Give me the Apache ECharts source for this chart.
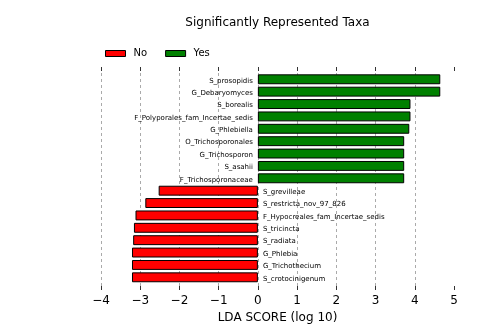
<!DOCTYPE html>
<html>
<head>
<meta charset="utf-8">
<script src="https://cdn.jsdelivr.net/npm/echarts@6/dist/echarts.min.js"></script>
<style>
  html, body { margin: 0; padding: 0; background: #fff; }
  #chart { width: 504px; height: 334px; }
</style>
</head>
<body>
<div id="chart"></div>
<script>
// Taxa in display order (top to bottom)
const taxa = [
  'S_prosopidis', 'G_Debaryomyces', 'S_borealis', 'F_Polyporales_fam_Incertae_sedis',
  'G_Phlebiella', 'O_Trichosporonales', 'G_Trichosporon', 'S_asahii',
  'F_Trichosporonaceae', 'S_grevilleae', 'S_restricta_nov_97_826',
  'F_Hypocreales_fam_Incertae_sedis', 'S_tricincta', 'S_radiata', 'G_Phlebia',
  'G_Trichothecium', 'S_crotocinigenum'
];
// LDA scores, enriched ("Yes") group
const yesScores = [4.65, 4.65, 3.89, 3.89, 3.86, 3.73, 3.73, 3.73, 3.73,
  '-', '-', '-', '-', '-', '-', '-', '-'];
// LDA scores, depleted ("No") group
const noScores = ['-', '-', '-', '-', '-', '-', '-', '-', '-',
  -2.53, -2.87, -3.12, -3.16, -3.18, -3.21, -3.21, -3.21];
const xTicks = { min: -4, max: 5, step: 1 };

const FONT = 'DejaVu Sans';
const chart = echarts.init(document.getElementById('chart'), null, { renderer: 'canvas' });

const fmt = v => (v < 0 ? '\u2212' + Math.abs(v) : String(v));

chart.setOption({
  animation: false,
  textStyle: { fontFamily: FONT },
  graphic: [{
    type: 'text', x: 277.5, y: 22.5,
    style: { text: 'Significantly Represented Taxa', font: '12px "DejaVu Sans"',
      fill: '#000', textAlign: 'center', textVerticalAlign: 'middle' }
  }],
  legend: {
    left: 105, top: 48.5, padding: 0, itemWidth: 20, itemHeight: 6, itemGap: 18,
    icon: 'rect',
    itemStyle: { borderWidth: 1, borderColor: '#000' },
    textStyle: { fontFamily: FONT, fontSize: 10, color: '#000', padding: [0, 0, 0, 3] },
    data: ['No', 'Yes']
  },
  grid: [
    { left: 101, right: 50, top: 67, bottom: 44 },
    { left: 101, right: 50, top: 73.1, bottom: 50.5 }
  ],
  xAxis: [
    {
      gridIndex: 0, type: 'value', position: 'bottom',
      min: xTicks.min, max: xTicks.max, interval: xTicks.step,
      axisLine: { show: false },
      axisTick: { show: true, inside: true, length: 4, lineStyle: { color: '#333', width: 1 } },
      axisLabel: { formatter: fmt, fontSize: 12, color: '#000', margin: 5, fontFamily: FONT },
      splitLine: { show: true, showMaxLine: false, lineStyle: { color: '#aaa', type: [3, 3], width: 1 } },
      name: 'LDA SCORE (log 10)', nameLocation: 'middle', nameGap: 21,
      nameTextStyle: { fontSize: 12, color: '#000', fontFamily: FONT }
    },
    {
      gridIndex: 0, type: 'value', position: 'top',
      min: xTicks.min, max: xTicks.max, interval: xTicks.step,
      axisLine: { show: false },
      axisTick: { show: true, inside: true, length: 4, lineStyle: { color: '#333', width: 1 } },
      axisLabel: { show: false },
      splitLine: { show: false }
    },
    {
      gridIndex: 1, type: 'value',
      min: xTicks.min, max: xTicks.max, interval: xTicks.step,
      show: false, splitLine: { show: false }
    }
  ],
  yAxis: [
    { gridIndex: 0, type: 'value', min: 0, max: 1, show: false, splitLine: { show: false } },
    {
      gridIndex: 1, type: 'category', data: taxa, inverse: true, show: false,
      boundaryGap: true
    }
  ],
  series: [
    {
      name: 'No', type: 'bar', xAxisIndex: 2, yAxisIndex: 1,
      data: noScores, barWidth: '80%', barGap: '-100%',
      itemStyle: { color: '#ff0000', borderColor: '#000', borderWidth: 1 },
      label: {
        show: true, position: 'right', distance: 5, offset: [0, 1.5],
        formatter: p => taxa[p.dataIndex],
        fontSize: 7, color: '#000', fontFamily: FONT
      }
    },
    {
      name: 'Yes', type: 'bar', xAxisIndex: 2, yAxisIndex: 1,
      data: yesScores, barWidth: '80%', barGap: '-100%',
      itemStyle: { color: '#008000', borderColor: '#000', borderWidth: 1 },
      label: {
        show: true, position: 'left', distance: 5, offset: [0, 1.5],
        formatter: p => taxa[p.dataIndex],
        fontSize: 7, color: '#000', fontFamily: FONT
      }
    }
  ]
});
</script>
</body>
</html>
